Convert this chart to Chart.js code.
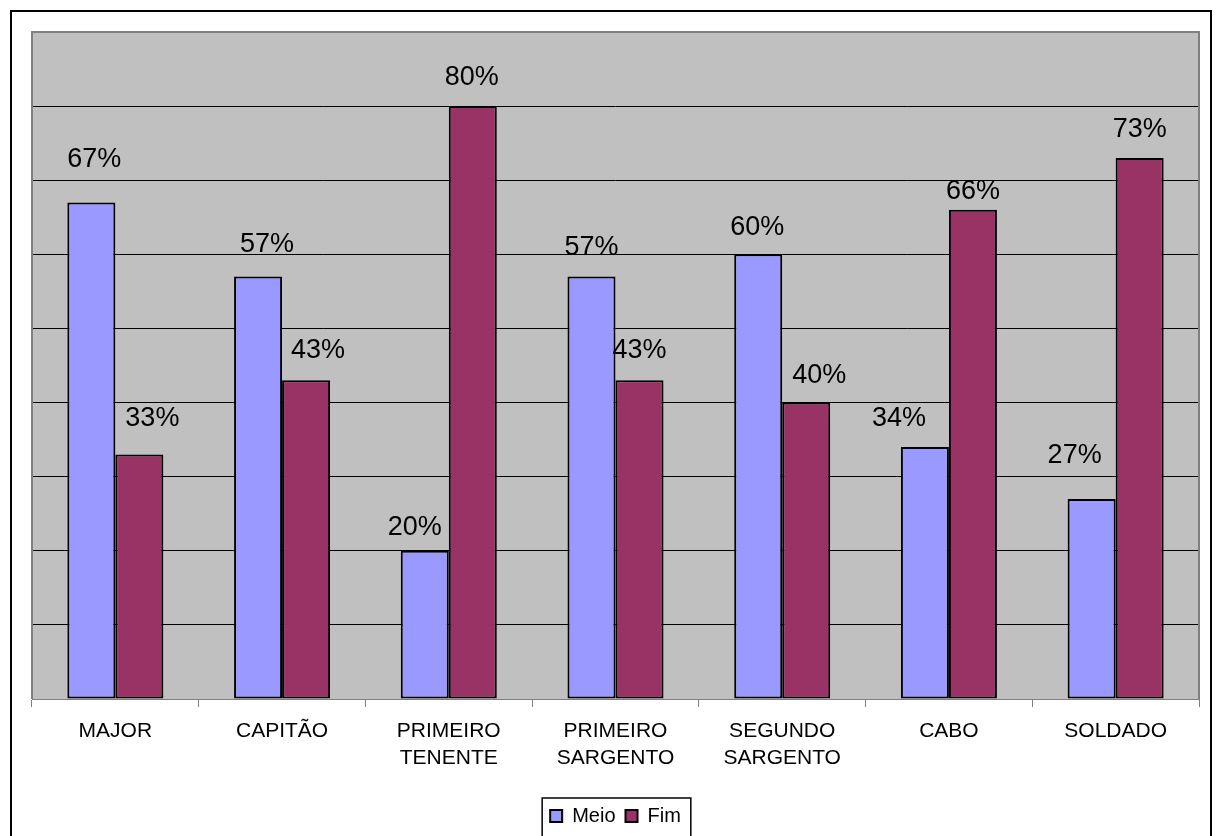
<!DOCTYPE html>
<html>
<head>
<meta charset="utf-8">
<script src="https://cdn.jsdelivr.net/npm/chart.js@4.4.1/dist/chart.umd.min.js"></script>
<style>
  html, body { margin: 0; padding: 0; background: #fff; }
  canvas { display: block; }
</style>
</head>
<body>
<canvas id="chart" width="1222" height="836"></canvas>
<script>
const categories = ['MAJOR', 'CAPITÃO', ['PRIMEIRO', 'TENENTE'], ['PRIMEIRO', 'SARGENTO'], ['SEGUNDO', 'SARGENTO'], 'CABO', 'SOLDADO'];
const meio = [67, 57, 20, 57, 60, 34, 27];
const fim = [33, 43, 80, 43, 40, 66, 73];
const yMax = 90;
const yStep = 10;

// hand-placed nudges for the value labels, [dx, dy] in px from the default spot
const meioLabelShift = [[3, -13], [9, -3], [-10, 6], [0, 0], [-1, 3], [-26, 1], [-17, -14]];
const fimLabelShift = [[13, -6], [12, 0], [-1, 1], [0, 0], [13, 2], [0, 11], [0, 1]];

const FONT = '"Liberation Sans", Arial, sans-serif';

const valueLabels = {
  id: 'valueLabels',
  afterDatasetsDraw(chart) {
    const ctx = chart.ctx;
    ctx.save();
    ctx.font = '27px ' + FONT;
    ctx.fillStyle = '#000';
    ctx.textAlign = 'center';
    ctx.textBaseline = 'alphabetic';
    chart.data.datasets.forEach((ds, i) => {
      chart.getDatasetMeta(i).data.forEach((bar, j) => {
        const [dx, dy] = ds.labelShift[j];
        ctx.fillText(ds.data[j] + '%', bar.x + dx, bar.y - 22 + dy);
      });
    });
    ctx.restore();
  }
};

const frame = {
  id: 'frame',
  beforeDraw(chart) {
    const { ctx, chartArea: a } = chart;
    ctx.save();
    ctx.fillStyle = '#fff';
    ctx.fillRect(0, 0, chart.width, chart.height);
    ctx.fillStyle = '#c0c0c0';
    ctx.fillRect(a.left, a.top, a.right - a.left, a.bottom - a.top);
    ctx.strokeStyle = '#000';
    ctx.lineWidth = 2;
    ctx.strokeRect(11, 11, chart.width - 22, chart.height + 10);
    ctx.restore();
  },
  afterDraw(chart) {
    const { ctx, chartArea: a, legend } = chart;
    ctx.save();
    // plot area edge
    ctx.strokeStyle = '#808080';
    ctx.lineWidth = 2;
    ctx.beginPath();
    ctx.moveTo(a.left, a.bottom);
    ctx.lineTo(a.left, a.top);
    ctx.lineTo(a.right, a.top);
    ctx.lineTo(a.right, a.bottom);
    ctx.stroke();
    // box round the legend
    const boxes = legend.legendHitBoxes;
    const left = Math.min(...boxes.map(b => b.left)) - 8;
    const right = Math.max(...boxes.map(b => b.left + b.width)) + 10;
    const top = Math.min(...boxes.map(b => b.top)) - 8;
    ctx.strokeStyle = '#000';
    ctx.lineWidth = 1.5;
    ctx.strokeRect(left, top, right - left, chart.height + 10 - top);
    ctx.restore();
  }
};

new Chart(document.getElementById('chart'), {
  type: 'bar',
  data: {
    labels: categories,
    datasets: [
      {
        label: 'Meio',
        data: meio,
        labelShift: meioLabelShift,
        backgroundColor: '#9999ff',
        borderColor: '#000',
        borderWidth: 2,
        borderSkipped: false,
        categoryPercentage: 0.576,
        barPercentage: 1
      },
      {
        label: 'Fim',
        data: fim,
        labelShift: fimLabelShift,
        backgroundColor: '#993366',
        borderColor: '#000',
        borderWidth: 2,
        borderSkipped: false,
        categoryPercentage: 0.576,
        barPercentage: 1
      }
    ]
  },
  options: {
    responsive: false,
    animation: false,
    layout: { padding: { left: 32, right: 23, top: 32, bottom: 0 } },
    plugins: {
      tooltip: { enabled: false },
      legend: {
        position: 'bottom',
        labels: {
          color: '#000',
          font: { family: FONT, size: 20 },
          boxWidth: 12,
          boxHeight: 12,
          padding: 10,
          generateLabels(chart) {
            return Chart.defaults.plugins.legend.labels.generateLabels(chart)
              .map(l => ({ ...l, lineWidth: 2 }));
          }
        }
      }
    },
    scales: {
      x: {
        grid: { offset: true, drawOnChartArea: false, drawTicks: true, tickLength: 8, color: '#808080' },
        border: { color: '#808080', width: 1 },
        ticks: {
          color: '#000',
          font: { family: FONT, size: 21, lineHeight: 1.29 },
          maxRotation: 0,
          autoSkip: false,
          padding: 11
        },
        afterFit(scale) { scale.height = 97; }
      },
      y: {
        min: 0,
        max: yMax,
        ticks: { stepSize: yStep, display: false },
        grid: { color: '#000', drawTicks: false },
        border: { display: false },
        afterFit(scale) { scale.width = 0; }
      }
    }
  },
  plugins: [frame, valueLabels]
});
</script>
</body>
</html>
